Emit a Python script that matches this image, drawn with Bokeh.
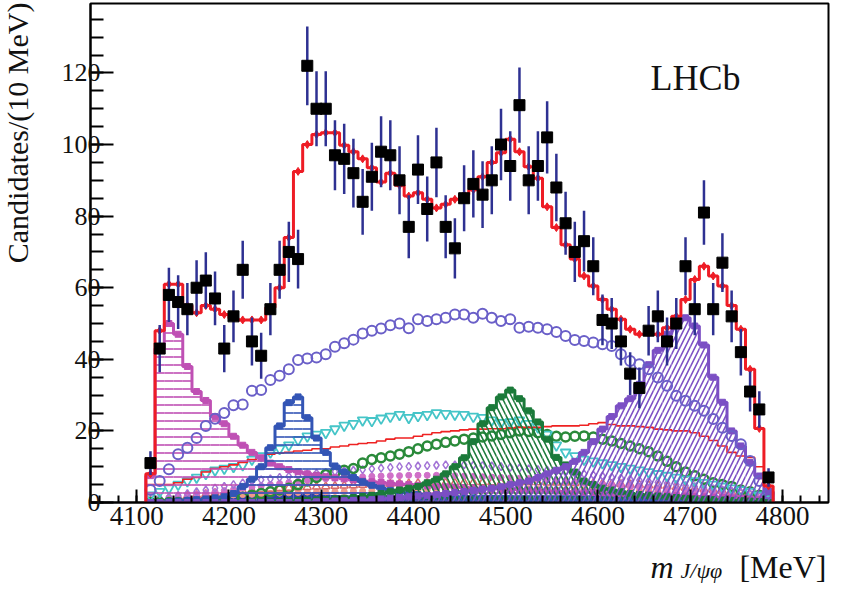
import math
from bokeh.plotting import figure
from bokeh.models import Range1d, SingleIntervalTicker, Label
from bokeh.layouts import column, row
from bokeh.embed import file_html
from bokeh.resources import INLINE

# ---------------- data (10 MeV bins) ----------------
bin_centers = list(range(4115, 4790, 10))
x_ticks_interval = 100
y_ticks_interval = 20

data_counts = [11, 43, 58, 56, 54, 60, 62, 57, 43, 52,
               65, 45, 41, 54, 65, 70, 68, 122, 110, 110,
               97, 96, 92, 84, 91, 98, 97, 90, 77, 93,
               82, 95, 77, 71, 85, 89, 86, 90, 100, 94,
               111, 90, 94, 102, 88, 78, 70, 73, 66, 51,
               50, 45, 36, 32, 48, 52, 45, 50, 66, 54,
               81, 54, 67, 52, 42, 31, 26, 7]

data_errors = [3.3, 6.6, 7.6, 7.5, 7.3, 7.7, 7.9, 7.5, 6.6, 7.2,
               8.1, 6.7, 6.4, 7.3, 8.1, 8.4, 8.2, 11.0, 10.5, 10.5,
               9.8, 9.8, 9.6, 9.2, 9.5, 9.9, 9.8, 9.5, 8.8, 9.6,
               9.1, 9.7, 8.8, 8.4, 9.2, 9.4, 9.3, 9.5, 10.0, 9.7,
               10.5, 9.5, 9.7, 10.1, 9.4, 8.8, 8.4, 8.5, 8.1, 7.1,
               7.1, 6.7, 6.0, 5.7, 6.9, 7.2, 6.7, 7.1, 8.1, 7.3,
               9.0, 7.3, 8.2, 7.2, 6.5, 5.6, 5.1, 2.6]

total_fit = [8, 48, 61, 61, 55, 53, 55, 54, 52.5, 51.5,
             51, 51, 51, 54.5, 60, 74, 92.5, 100, 102.8, 103.3,
             103.3, 99.8, 98, 96, 93.5, 89.5, 92, 88.6, 85.6, 86.5,
             84.7, 82.3, 83.3, 84.7, 86, 87.4, 91, 95, 97.7, 101.5,
             98, 93.8, 90.6, 82.6, 76.8, 72, 68, 63.3, 60.5, 56.7,
             54, 51.2, 48.4, 47, 47.2, 47, 48.8, 52, 56.7, 62.3,
             66, 63.3, 60.5, 55, 48.4, 37.2, 20.7, 4.6]

x4140 = [7.5, 43, 50, 47, 38, 31, 28.5, 24, 22, 18.5,
         16, 14, 12.5, 11, 10, 9.2, 8.6, 8, 7.6, 7.2,
         6.9, 6.6, 6.3, 6.0, 5.8, 5.6, 5.4, 5.2, 5.0, 4.8,
         4.6, 4.5, 4.4, 4.3, 4.2, 4.1, 4.0, 3.9, 3.8, 3.7,
         3.6, 3.5, 3.4, 3.3, 3.2, 3.1, 3.0, 2.9, 2.8, 2.7,
         2.6, 2.5, 2.4, 2.3, 2.2, 2.1, 2.0, 1.9, 1.8, 1.7,
         1.6, 1.5, 1.4, 1.3, 1.2, 1.0, 0.8, 0.4]

x4274 = [0, 0, 0.2, 0.4, 0.6, 0.8, 1.0, 1.3, 1.6, 2.5,
         4.5, 6.5, 10, 15.3, 21.4, 27.9, 29.5, 23.7, 18, 14,
         10.2, 8.5, 7, 5.8, 4.8, 4.0, 3.4, 2.9, 2.5, 2.2,
         2.0, 1.8, 1.6, 1.5, 1.4, 1.3, 1.2, 1.1, 1.0, 1.0,
         0.9, 0.9, 0.8, 0.8, 0.7, 0.7, 0.7, 0.6, 0.6, 0.6,
         0.5, 0.5, 0.5, 0.5, 0.4, 0.4, 0.4, 0.4, 0.3, 0.3,
         0.3, 0.3, 0.2, 0.2, 0.2, 0.1, 0.1, 0]

x4500 = [0, 0, 0, 0, 0, 0, 0, 0, 0, 0,
         0, 0, 0, 0.2, 0.3, 0.4, 0.5, 0.6, 0.7, 0.8,
         1.0, 1.2, 1.4, 1.7, 2.0, 2.5, 3.0, 3.5, 4.0, 4.5,
         5.5, 6.5, 8, 10, 12.5, 17, 22, 26.5, 29.5, 31.4,
         29, 25.6, 22.5, 17.7, 12.6, 10.5, 8.5, 6, 5, 4,
         3.5, 3, 2.5, 2.2, 2.0, 1.8, 1.6, 1.4, 1.2, 1.0,
         0.9, 0.8, 0.7, 0.6, 0.5, 0.4, 0.3, 0.1]

x4700 = [0, 0, 0, 0, 0, 0, 0, 0, 0, 0,
         0, 0, 0, 0, 0, 0, 0, 0, 0.2, 0.3,
         0.4, 0.5, 0.6, 0.7, 0.8, 1.0, 1.2, 1.4, 1.6, 1.8,
         2.0, 2.2, 2.5, 2.8, 3.1, 3.4, 3.7, 4.0, 4.4, 5.0,
         5.5, 6, 7, 8, 9, 10, 11.5, 14, 17, 20.5,
         24, 27, 29, 33, 38.5, 42.5, 47, 51.4, 51.6, 49.3,
         44, 35, 28, 20, 15.8, 11.2, 7.4, 3]

nonres_circles = [3.5, 6, 9.3, 13.5, 15.3, 18, 21.4, 23.4, 25, 27.2,
                  27.4, 31.2, 31.4, 34.2, 35.4, 37.2, 39.8, 40.2, 40.5, 41.4,
                  43.5, 44.5, 45.5, 47.2, 48, 48.6, 49.5, 50, 48.7, 51.2,
                  50.7, 51.2, 51.6, 52.5, 52.5, 51.6, 52.7, 51.6, 50.7, 51.2,
                  48.8, 49.1, 48.8, 48.4, 47.6, 46.5, 45.4, 45.1, 44.7, 44.2,
                  43.7, 41.4, 39.5, 38.6, 37.2, 34.9, 32.6, 29.8, 28.4, 27,
                  25.6, 23.3, 20.9, 18.6, 16.3, 11.6, 6, 2.5]

cyan_triangles = [2, 3, 4, 5, 6, 7, 8, 9, 9.5, 10,
                  10.5, 12, 13, 14, 15, 16, 17.5, 18.5, 19, 19.5,
                  20.5, 21.5, 22, 23, 22.8, 23.5, 24, 24.5, 23.7, 24.2,
                  24.5, 25, 24.8, 24.6, 24.5, 24, 23.7, 23, 22.3, 22.5,
                  23, 22, 21, 19, 16, 14, 13, 12, 11.5, 11,
                  10.5, 10, 9.5, 9, 8.5, 8, 7.5, 7, 6.5, 6,
                  5.5, 5, 4.5, 4, 3.5, 3, 2, 1]

thin_red = [5, 5, 5, 5.5, 6.5, 7, 8.5, 9.5, 10, 10.5,
            11.2, 12, 13, 13.5, 13.8, 14, 14.4, 14.6, 15, 15,
            15.5, 15.8, 16.2, 16.5, 16.7, 17.2, 17.7, 18, 18, 18.5,
            19, 19.5, 19.8, 20, 20.3, 20.5, 20.5, 20.6, 20.6, 20.8,
            21, 21, 21, 21.2, 21.4, 21.4, 21.4, 21.6, 22, 22.3,
            21.8, 21.4, 21.4, 21.2, 21, 20.5, 20.3, 20, 20, 19.5,
            18.5, 17.3, 15.8, 14, 13, 12.6, 10, 4]

green_circles = [0, 0, 0, 0, 0, 0, 0.2, 0.3, 0.5, 1,
                 1.5, 2, 2.5, 3, 3.5, 4, 5, 6, 7, 7.8,
                 8.4, 9, 9.5, 11, 12, 12.5, 13, 13.5, 14.2, 15,
                 15.8, 16.3, 16.8, 17.2, 17.7, 18, 18.3, 18.6, 19, 19.5,
                 20, 19.8, 19.5, 19, 18.5, 18.3, 18.5, 18.6, 18.3, 17.7,
                 17.2, 16.5, 15.8, 15, 14.2, 13, 11.5, 10, 8.5, 7.5,
                 6.5, 5.5, 5, 4.5, 3.5, 3, 2, 1]

violet_band = [0.5, 1, 1.5, 2, 2.5, 3, 3.5, 4, 4.5, 5,
               5.5, 6, 6.3, 6.6, 7, 7.3, 7.6, 8, 8.2, 8.4,
               8.6, 8.8, 9, 9.2, 9.4, 9.6, 9.8, 10, 10.1, 10.2,
               10.3, 10.4, 10.5, 10.5, 10.5, 10.4, 10.3, 10.2, 10, 9.8,
               9.6, 9.4, 9.2, 9, 8.8, 8.5, 8.2, 8, 7.7, 7.4,
               7.1, 6.8, 6.5, 6.2, 5.9, 5.6, 5.3, 5, 4.7, 4.4,
               4.1, 3.8, 3.5, 3.2, 2.8, 2.4, 1.8, 0.8]

orchid_band = [0.5, 1, 1.3, 1.6, 2, 2.3, 2.6, 3, 3.3, 3.6,
               4, 4.3, 4.6, 5, 5.3, 5.6, 5.9, 6.2, 6.4, 6.6,
               6.8, 7, 7.1, 7.2, 7.3, 7.4, 7.5, 7.5, 7.6, 7.6,
               7.6, 7.6, 7.5, 7.5, 7.4, 7.3, 7.2, 7.1, 7, 6.9,
               6.8, 6.7, 6.5, 6.3, 6.1, 5.9, 5.7, 5.5, 5.3, 5.1,
               4.9, 4.7, 4.5, 4.3, 4.1, 3.9, 3.7, 3.5, 3.3, 3.1,
               2.9, 2.7, 2.5, 2.2, 1.9, 1.6, 1.2, 0.6]

indianred_band = [0.5, 1, 1.2, 1.5, 1.8, 2, 2.3, 2.6, 2.8, 3,
                  3.2, 3.4, 3.6, 3.8, 4, 4.1, 4.2, 4.3, 4.4, 4.5,
                  4.6, 4.7, 4.8, 4.9, 5, 5.1, 5.2, 5.3, 5.3, 5.4,
                  5.4, 5.5, 5.5, 5.5, 5.6, 5.6, 5.6, 5.6, 5.6, 5.6,
                  5.6, 5.6, 5.6, 5.5, 5.5, 5.5, 5.4, 5.4, 5.3, 5.3,
                  5.2, 5.1, 5, 4.9, 4.8, 4.7, 4.5, 4.3, 4.1, 3.9,
                  3.7, 3.5, 3.2, 2.9, 2.6, 2.2, 1.6, 0.8]

salmon_band = [0.3, 0.6, 0.8, 1, 1.2, 1.4, 1.6, 1.8, 2, 2.1,
               2.2, 2.3, 2.4, 2.5, 2.6, 2.7, 2.8, 2.9, 3, 3,
               3.1, 3.1, 3.2, 3.2, 3.3, 3.3, 3.4, 3.4, 3.4, 3.5,
               3.5, 3.5, 3.5, 3.6, 3.6, 3.6, 3.6, 3.6, 3.6, 3.6,
               3.6, 3.6, 3.6, 3.6, 3.5, 3.5, 3.5, 3.5, 3.4, 3.4,
               3.4, 3.3, 3.3, 3.2, 3.2, 3.1, 3, 2.9, 2.8, 2.7,
               2.6, 2.5, 2.3, 2.1, 1.9, 1.6, 1.2, 0.6]

blue_fill = [0.3, 0.6, 0.9, 1.2, 1.4, 1.5, 1.6, 1.7, 1.8, 1.8,
             1.9, 2.0, 2.2, 2.4, 2.6, 2.8, 2.8, 2.6, 2.4, 2.2,
             2.1, 2.0, 2.0, 2.0, 2.0, 2.0, 2.0, 2.0, 2.0, 2.0,
             2.0, 2.0, 2.0, 2.0, 2.0, 2.0, 2.0, 2.0, 2.0, 2.0,
             2.0, 2.0, 2.0, 2.0, 2.0, 2.0, 2.0, 2.0, 2.0, 2.0,
             2.0, 2.0, 2.0, 2.0, 2.0, 2.0, 2.0, 2.0, 2.0, 2.0,
             2.0, 2.0, 1.9, 1.9, 1.8, 1.6, 1.3, 0.7]

# ---------------- helpers ----------------
half = 5
lo_edges = [c - half for c in bin_centers]
hi_edges = [c + half for c in bin_centers]


def outline(values):
    xs, ys = [lo_edges[0]], [0]
    for l, h, v in zip(lo_edges, hi_edges, values):
        xs += [l, h]
        ys += [v, v]
    xs.append(hi_edges[-1])
    ys.append(0)
    return xs, ys


def blank(width, height, left=0, right=0):
    f = figure(width=width, height=height, output_backend="svg", toolbar_location=None,
               x_range=Range1d(0, 1), y_range=Range1d(0, 1),
               x_axis_location=None, y_axis_location=None,
               min_border_left=left, min_border_right=right,
               min_border_top=0, min_border_bottom=0)
    f.outline_line_color = None
    f.xgrid.visible = False
    f.ygrid.visible = False
    f.background_fill_color = "white"
    f.border_fill_color = "white"
    return f


SERIF = "Liberation Serif"
INK = "#111111"

TOTAL_H = 585
LEFT_W = 50
MAIN_W = 833 - LEFT_W
MAIN_H = 536

p = figure(width=MAIN_W, height=MAIN_H, output_backend="svg", toolbar_location=None,
           x_range=Range1d(4050, 4850), y_range=Range1d(0, 139.4),
           min_border_left=40, min_border_right=5, min_border_top=3, min_border_bottom=34)
p.background_fill_color = "white"
p.border_fill_color = "white"
p.outline_line_color = "black"
p.outline_line_width = 2
p.xgrid.visible = False
p.ygrid.visible = False

# axes
p.xaxis.ticker = SingleIntervalTicker(interval=x_ticks_interval, num_minor_ticks=5)
p.yaxis.ticker = SingleIntervalTicker(interval=y_ticks_interval, num_minor_ticks=4)
for ax in (p.xaxis[0], p.yaxis[0]):
    ax.axis_line_width = 2
    ax.axis_line_color = "black"
    ax.major_tick_line_width = 2
    ax.minor_tick_line_width = 2
    ax.major_tick_line_color = "black"
    ax.minor_tick_line_color = "black"
    ax.major_tick_out = 0
    ax.minor_tick_out = 0
    ax.major_label_text_font = SERIF
    ax.major_label_text_color = INK
p.xaxis.major_label_text_font_size = "27px"
p.yaxis.major_label_text_font_size = "26px"
p.xaxis.major_tick_in = 13
p.xaxis.minor_tick_in = 7
p.yaxis.major_tick_in = 23
p.yaxis.minor_tick_in = 13
p.xaxis.major_label_standoff = 4
p.yaxis.major_label_standoff = -10

# ---------------- low-level components ----------------
p.quad(left=lo_edges, right=hi_edges, bottom=0, top=blue_fill,
       fill_color="#2f45a8", line_color=None)

p.scatter(bin_centers, salmon_band, marker="circle", size=6,
          fill_color="#f19a8a", line_color="#f19a8a")
p.scatter(bin_centers, indianred_band, marker="triangle", size=8,
          fill_color=None, line_color="#d86a6a", line_width=1.5)
p.scatter(bin_centers, orchid_band, marker="circle", size=6,
          fill_color="#d070c8", line_color="#d070c8")
p.scatter(bin_centers, violet_band, marker="diamond", size=8,
          fill_color=None, line_color="#a374d6", line_width=1.5)

p.scatter(bin_centers, green_circles, marker="circle", size=9,
          fill_color=None, line_color="#2a8a3a", line_width=2.5)
p.scatter(bin_centers, cyan_triangles, marker="inverted_triangle", size=10,
          fill_color=None, line_color="#45c5c8", line_width=1.8)

xs, ys = outline(thin_red)
p.line(xs, ys, line_color="#ee2222", line_width=1.6)

# ---------------- hatched resonances ----------------
hatched = [
    (x4140, "#bf50b4", "-", 8),
    (x4274, "#3355b5", "-", 8),
    (x4500, "#1b7a3a", "\\", 10),
    (x4700, "#7b4fc4", "/", 10),
]
for vals, col, pat, sc in hatched:
    p.quad(left=lo_edges, right=hi_edges, bottom=0, top=vals,
           fill_color=None, line_color=None,
           hatch_pattern=pat, hatch_color=col, hatch_scale=sc, hatch_weight=1.6)
    xs, ys = outline(vals)
    p.line(xs, ys, line_color=col, line_width=3)
    p.scatter(bin_centers, vals, marker="square", size=6,
              fill_color=col, line_color=col)

# broad non-resonant circles
p.scatter(bin_centers, nonres_circles, marker="circle", size=10,
          fill_color=None, line_color="#6a5fc8", line_width=2)

# ---------------- total fit ----------------
xs, ys = outline(total_fit)
p.line(xs, ys, line_color="#ee1c25", line_width=3)
p.scatter(bin_centers, total_fit, marker="diamond", size=8,
          fill_color="#ee1c25", line_color="#ee1c25")

# ---------------- data ----------------
p.segment(x0=bin_centers, x1=bin_centers,
          y0=[v - e for v, e in zip(data_counts, data_errors)],
          y1=[v + e for v, e in zip(data_counts, data_errors)],
          line_color="#2e3192", line_width=2.5)
p.scatter(bin_centers, data_counts, marker="square", size=11,
          fill_color="black", line_color="black")

p.add_layout(Label(x=560, y=425, x_units="screen", y_units="screen",
                   text="LHCb", text_align="left", text_baseline="alphabetic",
                   text_font=SERIF, text_font_size="36px", text_color=INK))

# ---------------- left strip: y-axis title ----------------
ystrip = blank(LEFT_W, TOTAL_H)
ystrip.add_layout(Label(x=16.5, y=TOTAL_H - 2, x_units="screen", y_units="screen",
                        text="Candidates/(10 MeV)", angle=math.pi / 2,
                        text_align="right", text_baseline="middle",
                        text_font=SERIF, text_font_size="30px", text_color=INK))

# ---------------- bottom strip: x-axis title ----------------
STRIP_H = TOTAL_H - MAIN_H
xstrip = blank(MAIN_W, STRIP_H, left=40, right=5)
xstrip.add_layout(Label(x=560, y=STRIP_H - 30.8, x_units="screen", y_units="screen",
                        text="m", text_align="left", text_baseline="alphabetic",
                        text_font=SERIF, text_font_style="italic",
                        text_font_size="32px", text_color=INK))
xstrip.add_layout(Label(x=590, y=STRIP_H - 34.3, x_units="screen", y_units="screen",
                        text="J/ψφ", text_align="left", text_baseline="alphabetic",
                        text_font=SERIF, text_font_style="italic",
                        text_font_size="22px", text_color=INK))
xstrip.add_layout(Label(x=736, y=STRIP_H - 30.8, x_units="screen", y_units="screen",
                        text="[MeV]", text_align="right", text_baseline="alphabetic",
                        text_font=SERIF, text_font_size="32px", text_color=INK))

layout = row(ystrip, column(p, xstrip, spacing=0), spacing=0)
open("out.html", "w").write(file_html(layout, INLINE))
